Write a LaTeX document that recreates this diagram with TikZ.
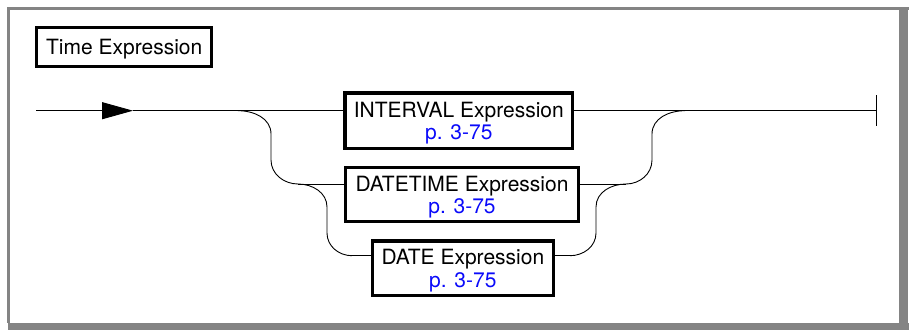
\documentclass[tikz,border=0pt]{standalone}
\usepackage{fontspec}
\setmainfont{TeX Gyre Heros}
\usetikzlibrary{arrows.meta}
\definecolor{framegray}{RGB}{132,132,132}
\definecolor{linkblue}{RGB}{10,10,250}
\tikzset{
  diagfont/.style={font=\fontsize{21}{22.4}\selectfont},
  titlebox/.style={draw, line width=3.3pt, diagfont, inner sep=0pt,
    minimum width=175pt, minimum height=39pt, text depth=0pt},
  exprbox/.style={draw, line width=3.3pt, diagfont, align=center, inner sep=0pt,
    text height=37.5pt, text depth=0pt, fill=white},
  conn/.style={line width=0.9pt, black},
}
\begin{document}
\begin{tikzpicture}[x=1pt, y=-1pt]
\useasboundingbox (0,0) rectangle (909,330);
% frame
\fill[framegray] (7.3,7.3) rectangle (10,323.3);
\fill[framegray] (7.3,7.3) rectangle (909,10);
\fill[framegray] (899,10) rectangle (907.5,330);
\fill[framegray] (8,323.3) rectangle (909,330);

% title
\node[titlebox] (title) at (124.2,47.15) {Time Expression};

% boxes
\node[exprbox, minimum width=227.7pt, minimum height=55.4pt] (interval) at (458.8,120.65)
  {INTERVAL Expression\\\textcolor{linkblue}{p. 3-75}};
\node[exprbox, minimum width=232.7pt, minimum height=54pt] (datetime) at (462,194.65)
  {DATETIME Expression\\\textcolor{linkblue}{p. 3-75}};
\node[exprbox, minimum width=181pt, minimum height=54.7pt] (date) at (462.85,268.3)
  {DATE Expression\\\textcolor{linkblue}{p. 3-75}};

% coordinates
\coordinate (start) at (36,110.7);
\coordinate (atip) at (133,110.7);
\coordinate (stop) at (876,110.7);
\coordinate (dl) at (298,184);
\coordinate (dr) at (626,184);
\coordinate (el) at (352,255.7);
\coordinate (er) at (570,255.7);

% main line
\draw[conn, -{Triangle[length=31pt,width=17pt]}] (start) -- (atip);
\draw[conn] (atip) -- (start -| interval.west);
\draw[conn] (interval.east |- stop) -- (stop);
\draw[conn] ([yshift=15.5pt]stop) -- ([yshift=-15.5pt]stop);

% left branches
\draw[conn] (238,110.7) to[out=0,in=90] (271,134) -- (271,160) to[out=-90,in=180] (dl);
\draw[conn] (dl) -- (dl -| datetime.west);
\draw[conn] (dl) to[out=0,in=90] (327,207) -- (327,233) to[out=-90,in=180] (el);
\draw[conn] (el) -- (el -| date.west);

% right branches
\draw[conn] (dr -| datetime.east) -- (dr);
\draw[conn] (dr) to[out=0,in=-90] (652,160) -- (652,134) to[out=90,in=180] (685,110.7);
\draw[conn] (er -| date.east) -- (er);
\draw[conn] (er) to[out=0,in=-90] (596,233) -- (596,207) to[out=90,in=180] (dr);
\end{tikzpicture}
\end{document}
